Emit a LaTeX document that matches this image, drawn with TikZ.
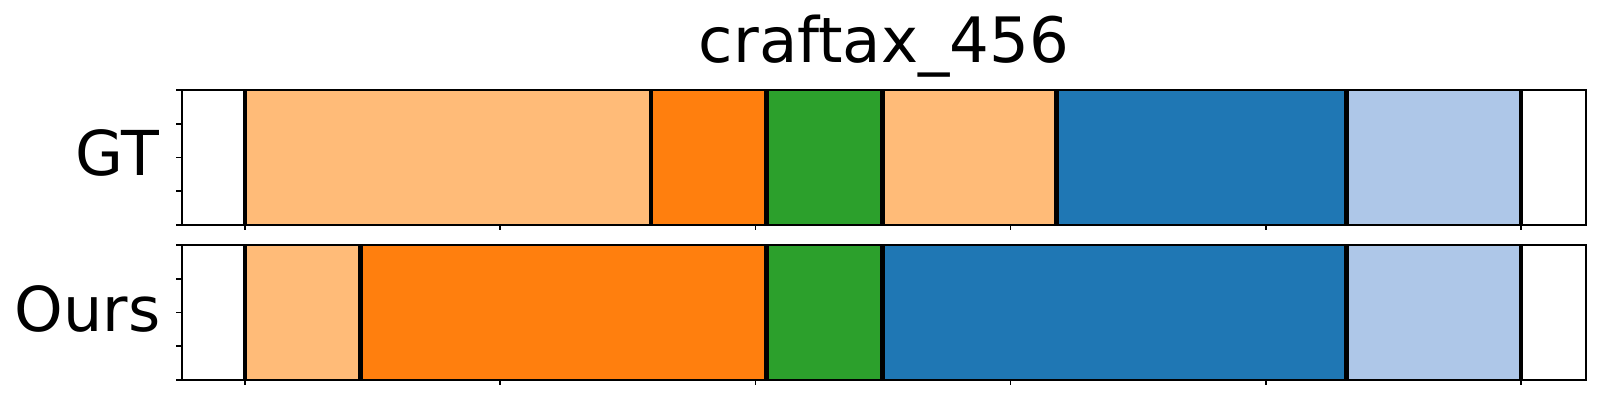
\documentclass[tikz,border=0pt]{standalone}
\usepackage{fontspec}
\setmainfont{DejaVu Sans}
\definecolor{tlorange}{HTML}{FFBB78}
\definecolor{torange}{HTML}{FF7F0E}
\definecolor{tgreen}{HTML}{2CA02C}
\definecolor{tblue}{HTML}{1F77B4}
\definecolor{tlblue}{HTML}{AEC7E8}
\tikzset{
  seg/.style={draw=black!60, line width=0.3pt},
  sep/.style={draw=black, line width=1.3pt},
  frame/.style={draw=black, line width=0.6pt},
  tick/.style={draw=black, line width=0.45pt},
  lab/.style={inner sep=0pt, font=\fontsize{17.6}{22}\selectfont},
  ttl/.style={inner sep=0pt, font=\fontsize{17.8}{22}\selectfont}
}
\begin{document}
\begin{tikzpicture}[x=0.01cm, y=-0.01cm]
\useasboundingbox (0,0) rectangle (1600,400);
% title
\node[ttl, anchor=base] (title) at (884,62.3) {craftax\_456};
% labels
\node[lab, anchor=base east] (gt) at (160,175) {GT};
\node[lab, anchor=base east] (ours) at (161,331) {Ours};
% GT row segments
\foreach \a/\b/\c in {245/651/tlorange, 651/766.7/torange, 766.7/882.7/tgreen, 882.7/1056.7/tlorange, 1056.7/1346.7/tblue, 1346.7/1521/tlblue}
  \filldraw[seg, fill=\c] (\a,90) rectangle (\b,225);
% Ours row segments
\foreach \a/\b/\c in {245/360.7/tlorange, 360.7/766.7/torange, 766.7/882.7/tgreen, 882.7/1346.7/tblue, 1346.7/1521/tlblue}
  \filldraw[seg, fill=\c] (\a,245) rectangle (\b,380);
% separators
\foreach \x in {245,651,766.7,882.7,1056.7,1346.7,1521}
  \draw[sep] (\x,90) -- (\x,225);
\foreach \x in {245,360.7,766.7,882.7,1346.7,1521}
  \draw[sep] (\x,245) -- (\x,380);
% frames
\draw[frame] (181.7,90) rectangle (1585.7,225);
\draw[frame] (181.7,245) rectangle (1585.7,380);
% ticks
\foreach \k in {0,...,5} {
  \draw[tick] ({245+\k*255.2},225) -- ++(0,5);
  \draw[tick] ({245+\k*255.2},380) -- ++(0,5);
}
\foreach \k in {0,...,4} {
  \draw[tick] (181.7,{90+\k*33.75}) -- ++(-5.5,0);
  \draw[tick] (181.7,{245+\k*33.75}) -- ++(-5.5,0);
}
\end{tikzpicture}
\end{document}
